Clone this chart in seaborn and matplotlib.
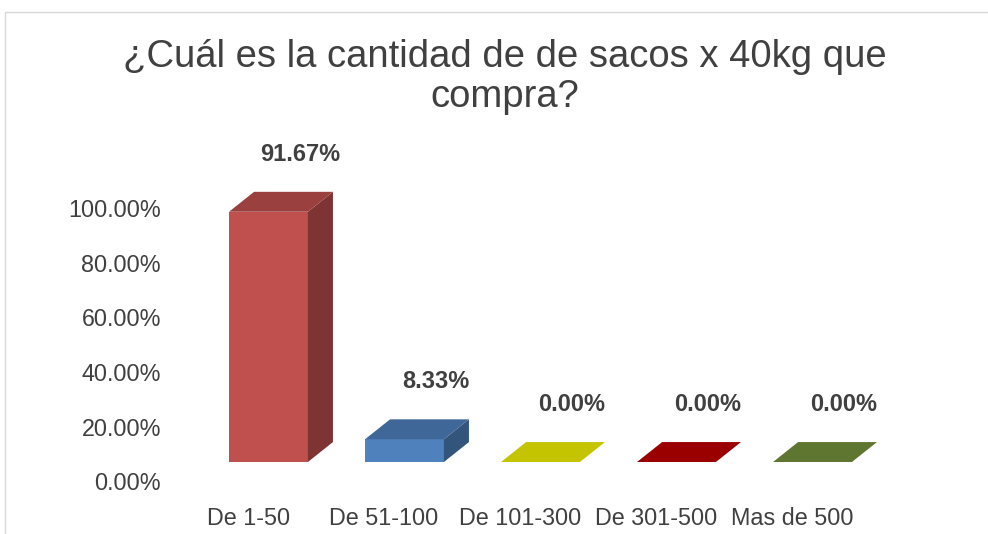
import numpy as np
import matplotlib.pyplot as plt
import matplotlib.patches as mpatches
import seaborn as sns

# Chart data
categories = ["De 1-50", "De 51-100", "De 101-300", "De 301-500", "Mas de 500"]
percentages = [91.67, 8.33, 0.00, 0.00, 0.00]
bar_colors = ["#C0504D", "#4F81BD", "#F5F500", "#C00000", "#77933C"]
tick_values = [0, 20, 40, 60, 80, 100]
title = "¿Cuál es la cantidad de de sacos x 40kg que\ncompra?"

sns.set_style("white")
plt.rcParams['font.family'] = ['Liberation Sans', 'DejaVu Sans']

fig = plt.figure(figsize=(9.88, 5.34), dpi=100)
ax = fig.add_axes([0.1685, 0.0824, 0.7571, 0.6367])

sns.barplot(x=categories, y=percentages, hue=categories, palette=bar_colors,
            saturation=1, width=0.58, legend=False, linewidth=0, ax=ax)

ax.set_xlim(-0.75, 4.75)
ax.set_ylim(-10.26, 114.29)

# 3D look: top and side faces drawn from each bar
depth_x, depth_y = 0.184, 7.3
for patch, color in zip(ax.patches, bar_colors):
    x0, w, h = patch.get_x(), patch.get_width(), patch.get_height()
    rgb = np.array(plt.matplotlib.colors.to_rgb(color))
    top = [(x0, h), (x0 + w, h), (x0 + w + depth_x, h + depth_y), (x0 + depth_x, h + depth_y)]
    side = [(x0 + w, 0), (x0 + w + depth_x, depth_y), (x0 + w + depth_x, h + depth_y), (x0 + w, h)]
    if h > 0:
        ax.add_patch(mpatches.Polygon(side, closed=True, fc=rgb * 0.65, ec='none'))
    ax.add_patch(mpatches.Polygon(top, closed=True, fc=rgb * 0.8, ec='none'))

# data labels
for i, v in enumerate(percentages):
    ax.text(i + 0.23, v + 21, f"{v:.2f}%", ha='center', va='center',
            fontsize=17, fontweight='bold', color='#404040')

# axis labels sit a bit below the bars (Excel 3D floor)
ax.set_yticks(np.array(tick_values) - 7)
ax.set_yticklabels([f"{v:.2f}%" for v in tick_values])
ax.set_xticks(np.arange(len(categories)) - 0.15)
ax.set_xticklabels(categories)
ax.tick_params(axis='both', length=0, labelsize=16.8, labelcolor='#404040')
ax.tick_params(axis='y', pad=4)
ax.tick_params(axis='x', pad=12)
ax.set_xlabel('')
ax.set_ylabel('')
sns.despine(ax=ax, left=True, bottom=True)

fig.text(0.511, 0.856, title, ha='center', va='center', fontsize=27.5,
         color='#404040', linespacing=1.15)

fig.add_artist(mpatches.Rectangle((0.005, -0.05), 1.1, 1.05 - 12 / 534,
                                  transform=fig.transFigure, fill=False,
                                  ec='#D9D9D9', lw=1))

fig.savefig('out.png', dpi=100, facecolor='white')
